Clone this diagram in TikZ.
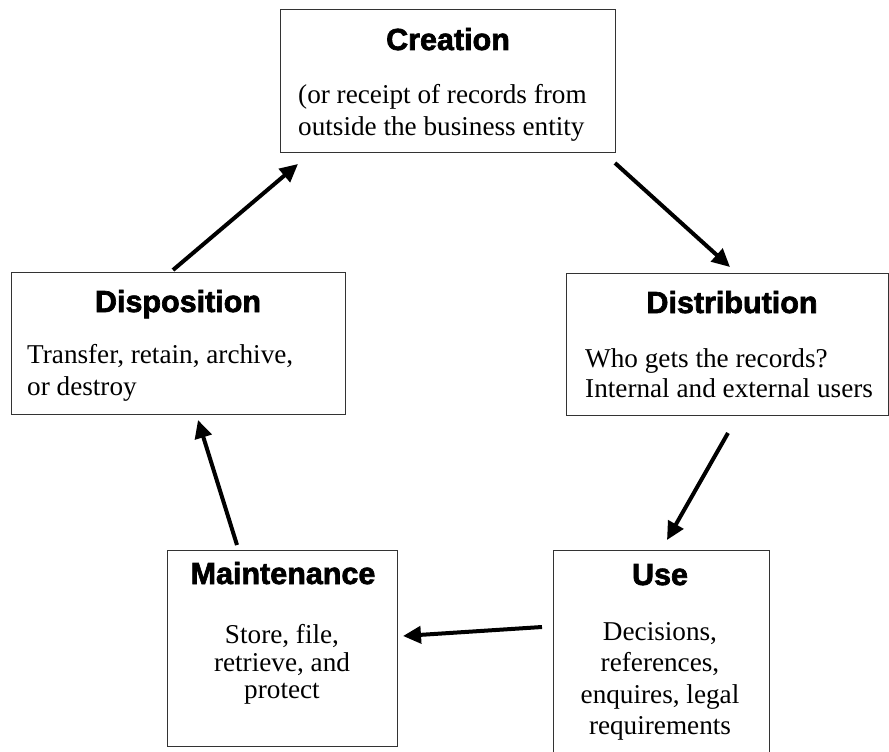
\documentclass[tikz,border=0pt]{standalone}
\usepackage{fontspec}
\setmainfont{Liberation Serif}
\newfontfamily\titlefont[FakeBold=2.2]{Liberation Sans Bold}
\usetikzlibrary{arrows.meta}
\tikzset{
  box/.style={draw=black!80, line width=1.3pt, rectangle, inner sep=0pt, anchor=north west},
  ttl/.style={anchor=base, inner sep=0pt, font=\titlefont\fontsize{30.5}{36}\selectfont},
  bodyl/.style={anchor=base west, inner sep=0pt, font=\fontsize{27.2}{31}\selectfont},
  bodyc/.style={anchor=base, inner sep=0pt, font=\fontsize{27.2}{31}\selectfont},
  flow/.style={line width=4pt, -{Triangle[length=18pt,width=17pt]}, shorten <=0pt}
}
\begin{document}
\begin{tikzpicture}[x=1pt,y=-1pt]
\useasboundingbox (0,0) rectangle (889,752);
\clip (0,0) rectangle (889,752);
% boxes
\node[box, minimum width=335pt, minimum height=143pt] (cre) at (280,9) {};
\node[box, minimum width=322pt, minimum height=142pt] (dis) at (566,273) {};
\node[box, minimum width=216pt, minimum height=215pt] (use) at (553,550) {};
\node[box, minimum width=230pt, minimum height=196pt] (mai) at (167,550) {};
\node[box, minimum width=334pt, minimum height=142pt] (dsp) at (11,272) {};
% texts
\node[ttl] (cre-t) at (448,50) {Creation};
\node[bodyl] (cre-1) at (298,103) {(or receipt of records from};
\node[bodyl] (cre-2) at (298,135) {outside the business entity};
\node[ttl] (dis-t) at (732,313) {Distribution};
\node[bodyl] (dis-1) at (585,367) {Who gets the records?};
\node[bodyl] (dis-2) at (585,397) {Internal and external users};
\node[ttl] (use-t) at (660,585) {Use};
\node[bodyc] (use-1) at (660,640) {Decisions,};
\node[bodyc] (use-2) at (660,671) {references,};
\node[bodyc] (use-3) at (660,703) {enquires, legal};
\node[bodyc] (use-4) at (660,734) {requirements};
\node[ttl] (mai-t) at (283,584) {Maintenance};
\node[bodyc] (mai-1) at (282,643) {Store, file,};
\node[bodyc] (mai-2) at (282,671) {retrieve, and};
\node[bodyc] (mai-3) at (282,698) {protect};
\node[ttl] (dsp-t) at (178,312) {Disposition};
\node[bodyl] (dsp-1) at (27,363) {Transfer, retain, archive,};
\node[bodyl] (dsp-2) at (27,395) {or destroy};
% arrow ends
\coordinate (a1s) at (615,163); \coordinate (a1e) at (730,267);
\coordinate (a2s) at (728,433); \coordinate (a2e) at (667,540);
\coordinate (a3s) at (542,627); \coordinate (a3e) at (403,636);
\coordinate (a4s) at (237,545); \coordinate (a4e) at (198,420);
\coordinate (a5s) at (173,270); \coordinate (a5e) at (298,164);
\draw[flow] (a1s) -- (a1e);
\draw[flow] (a2s) -- (a2e);
\draw[flow] (a3s) -- (a3e);
\draw[flow] (a4s) -- (a4e);
\draw[flow] (a5s) -- (a5e);
\end{tikzpicture}
\end{document}
